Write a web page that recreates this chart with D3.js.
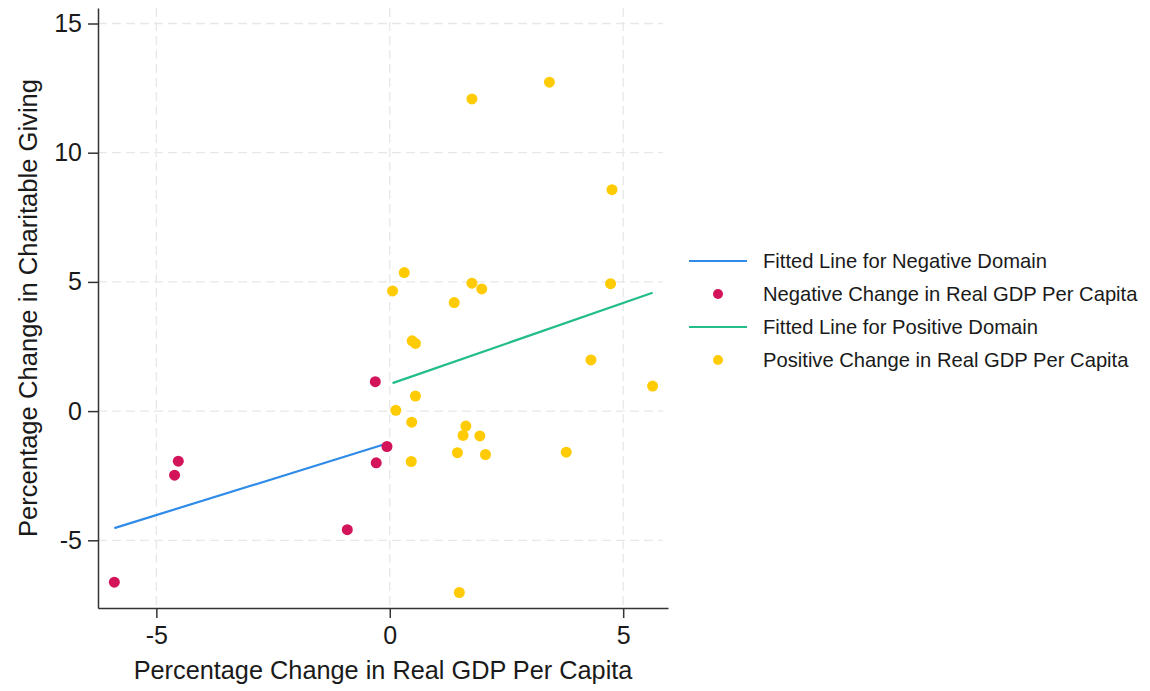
<!DOCTYPE html>
<html>
<head>
<meta charset="utf-8">
<script src="https://cdn.jsdelivr.net/npm/d3@7"></script>
<style>
  body { margin: 0; background: #fff; }
  text { font-family: Arial, "Liberation Sans", sans-serif; fill: #1a1a1a; }
</style>
</head>
<body>
<svg id="chart"></svg>
<script>
// Negative change in real GDP per capita (x) vs change in charitable giving (y)
const negX = [-0.31, -4.53, -4.61, -0.06, -0.29, -0.91, -5.90];
const negY = [1.14, -1.94, -2.48, -1.37, -2.00, -4.59, -6.62];

// Positive change in real GDP per capita
const posX = [1.76, 3.42, 4.76, 0.31, 0.06, 1.76, 1.97, 1.38, 4.73, 0.48, 0.55, 4.31,
              5.63, 0.55, 0.13, 0.47, 1.63, 1.57, 1.93, 1.45, 2.05, 3.78, 0.46, 1.49];
const posY = [12.08, 12.73, 8.57, 5.36, 4.65, 4.95, 4.73, 4.20, 4.93, 2.72, 2.62, 1.98,
              0.97, 0.58, 0.03, -0.43, -0.58, -0.94, -0.96, -1.61, -1.68, -1.59, -1.95, -7.02];

const xTicks = [-5, 0, 5];
const yTicks = [-5, 0, 5, 10, 15];

const legendLabels = [
  "Fitted Line for Negative Domain",
  "Negative Change in Real GDP Per Capita",
  "Fitted Line for Positive Domain",
  "Positive Change in Real GDP Per Capita"
];

const colors = {neg: "#d4145a", pos: "#ffcb05", negLine: "#2f8be8", posLine: "#22bd8a"};

const width = 1150, height = 691;
const margin = {top: 8, left: 98, right: 482, bottom: 83};
const w = width - margin.left - margin.right;
const h = height - margin.top - margin.bottom;

const svg = d3.select("#chart").attr("width", width).attr("height", height);
const chart = svg.append("g").attr("transform", `translate(${margin.left},${margin.top})`);

const x = d3.scaleLinear().domain([-6.25, 5.96]).range([0, w]);
const y = d3.scaleLinear().domain([-7.62, 15.6]).range([h, 0]);

// least squares fit over the range of the x values
function fit(xs, ys) {
  const mx = d3.mean(xs), my = d3.mean(ys);
  let sxy = 0, sxx = 0;
  xs.forEach((v, i) => { sxy += (v - mx) * (ys[i] - my); sxx += (v - mx) * (v - mx); });
  const b = sxy / sxx, a = my - b * mx;
  const [x0, x1] = d3.extent(xs);
  return [[x0, a + b * x0], [x1, a + b * x1]];
}

// gridlines
chart.append("g").selectAll("line").data(yTicks).join("line")
  .attr("x1", 0).attr("x2", w - 5)
  .attr("y1", d => y(d)).attr("y2", d => y(d))
  .attr("stroke", "#e8e8e8").attr("stroke-width", 1.3).attr("stroke-dasharray", "9,5");
chart.append("g").selectAll("line").data(xTicks).join("line")
  .attr("y1", 0).attr("y2", h)
  .attr("x1", d => x(d)).attr("x2", d => x(d))
  .attr("stroke", "#e8e8e8").attr("stroke-width", 1.3).attr("stroke-dasharray", "9,5");

// axes (plain hyphen for negatives, like the original)
const xAxis = d3.axisBottom(x).tickValues(xTicks).tickFormat(d => String(d))
  .tickSize(10).tickPadding(8).tickSizeOuter(0);
const yAxis = d3.axisLeft(y).tickValues(yTicks).tickFormat(d => String(d))
  .tickSize(10).tickPadding(6).tickSizeOuter(0);

const xg = chart.append("g").attr("transform", `translate(0,${h})`).call(xAxis);
const yg = chart.append("g").call(yAxis);
[xg, yg].forEach(g => {
  g.select(".domain").attr("stroke", "#333").attr("stroke-width", 1.5);
  g.selectAll(".tick line").attr("stroke", "#333").attr("stroke-width", 1.5);
  g.selectAll(".tick text").attr("font-size", 25).attr("fill", "#1a1a1a")
    .attr("font-family", "Arial, 'Liberation Sans', sans-serif");
});
xg.selectAll(".tick text").attr("dy", "0.71em");

// axis titles
svg.append("text")
  .attr("x", margin.left + w / 2).attr("y", 679)
  .attr("text-anchor", "middle").attr("font-size", 25.3)
  .text("Percentage Change in Real GDP Per Capita");
svg.append("text")
  .attr("transform", `translate(37,${margin.top + h / 2}) rotate(-90)`)
  .attr("text-anchor", "middle").attr("font-size", 25.6)
  .text("Percentage Change in Charitable Giving");

// fitted lines
const line = d3.line().x(d => x(d[0])).y(d => y(d[1]));
chart.append("path").datum(fit(negX, negY)).attr("d", line)
  .attr("stroke", colors.negLine).attr("stroke-width", 2.2).attr("fill", "none");
chart.append("path").datum(fit(posX, posY)).attr("d", line)
  .attr("stroke", colors.posLine).attr("stroke-width", 2.2).attr("fill", "none");

// points
chart.append("g").selectAll("circle").data(d3.zip(negX, negY)).join("circle")
  .attr("cx", d => x(d[0])).attr("cy", d => y(d[1])).attr("r", 5.5)
  .attr("fill", colors.neg);
chart.append("g").selectAll("circle").data(d3.zip(posX, posY)).join("circle")
  .attr("cx", d => x(d[0])).attr("cy", d => y(d[1])).attr("r", 5.5)
  .attr("fill", colors.pos);

// legend
const legend = svg.append("g").attr("transform", "translate(689,261)");
const kinds = ["line", "dot", "line", "dot"];
const legendColors = [colors.negLine, colors.neg, colors.posLine, colors.pos];
const rows = legend.selectAll("g").data(legendLabels).join("g")
  .attr("transform", (d, i) => `translate(0,${i * 33})`);
rows.each(function(d, i) {
  const g = d3.select(this);
  if (kinds[i] === "line") {
    g.append("line").attr("x1", 0).attr("x2", 58).attr("y1", 0).attr("y2", 0)
      .attr("stroke", legendColors[i]).attr("stroke-width", 2.2);
  } else {
    g.append("circle").attr("cx", 29).attr("cy", 0).attr("r", 5).attr("fill", legendColors[i]);
  }
  g.append("text").attr("x", 74).attr("y", 0).attr("dy", "0.35em")
    .attr("font-size", 20.2).text(d);
});
</script>
</body>
</html>
